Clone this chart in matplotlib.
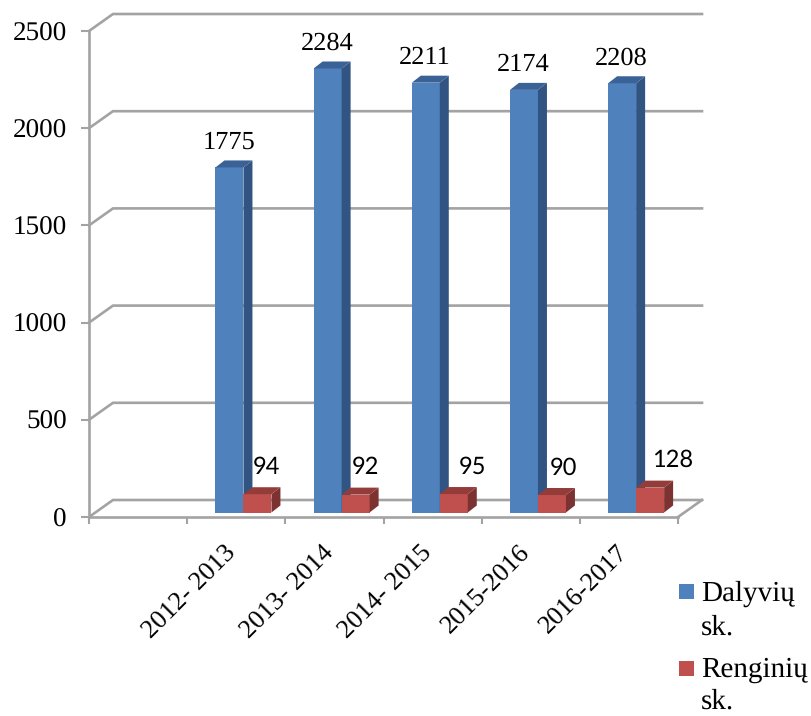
import matplotlib
matplotlib.use("Agg")
import matplotlib.pyplot as plt
from matplotlib.patches import Rectangle
from matplotlib.transforms import ScaledTranslation

# data
seasons = ["2012- 2013", "2013- 2014", "2014- 2015", "2015-2016", "2016-2017"]
dalyviai = [1775, 2284, 2211, 2174, 2208]
renginiai = [94, 92, 95, 90, 128]
yticks = [0, 500, 1000, 1500, 2000, 2500]
legend_first = ["Dalyvių", "Renginių"]
legend_second = ["sk.", "sk."]

W, H = 811, 716
X0, X1, Y0, Y1 = 89, 678, 517, 31   # plot box in pixels
n_slots = 6

plt.rcParams["font.family"] = ["Liberation Serif", "DejaVu Serif"]
plt.rcParams["text.hinting"] = "no_hinting"
fig = plt.figure(figsize=(W / 100, H / 100), dpi=100)
ax = fig.add_axes([X0 / W, 1 - Y0 / H, (X1 - X0) / W, (Y0 - Y1) / H])
ax.set_xlim(0, n_slots)
ax.set_ylim(0, 2500)

# px -> data units
ux = n_slots / (X1 - X0)
uy = 2500 / (Y0 - Y1)
grey = "#a3a3a3"

# back wall + floor
back_dx, back_dy = 24 * ux, 17 * uy
for v in yticks:
    ax.plot([0, back_dx, n_slots + back_dx], [v, v + back_dy, v + back_dy],
            color=grey, lw=1.9, clip_on=False, zorder=1, solid_joinstyle="miter")
ax.plot([n_slots, n_slots + back_dx], [0, back_dy], color=grey, lw=1.9, clip_on=False, zorder=1)


def box(x, val, width, front, side, top):
    # floor offset of the bars
    sx, sy = 7.2 * ux, 4.5 * uy
    dx, dy = 9 * ux, 7 * uy
    left = x + sx
    right = left + width
    ax.bar(left, val, width, bottom=sy, align="edge", color=front, zorder=3)
    ax.fill([right, right + dx, right + dx, right],
            [sy, sy + dy, sy + val + dy, sy + val], color=side, lw=0, zorder=3, clip_on=False)
    ax.fill([left, left + dx, right + dx, right],
            [sy + val, sy + val + dy, sy + val + dy, sy + val], color=top, lw=0, zorder=3, clip_on=False)


bar_w = 28 * ux
red_dx = [10, 11, 19, 12, 23]
for i, season in enumerate(seasons):
    c = i + 1.5
    box(c - bar_w, dalyviai[i], bar_w, "#4f81bd", "#325482", "#3a6296")
    box(c, renginiai[i], bar_w, "#c0504d", "#7c3230", "#943c3a")
    ax.annotate(str(dalyviai[i]), (c - bar_w / 2, dalyviai[i]), xytext=(6.4 * 0.72, 21),
                textcoords="offset points", ha="center", va="center", fontsize=19,
                annotation_clip=False, zorder=5)
    ax.annotate(str(renginiai[i]), (c + bar_w / 2, renginiai[i]), xytext=(6.4 * 0.72 + red_dx[i] * 0.72, 23),
                textcoords="offset points", ha="center", va="center", fontsize=17,
                family=["Lato", "DejaVu Sans"], annotation_clip=False, zorder=5)

# axes
for s in ["top", "right"]:
    ax.spines[s].set_visible(False)
for s in ["left", "bottom"]:
    ax.spines[s].set_color(grey)
    ax.spines[s].set_linewidth(1.9)
ax.set_yticks(yticks)
ax.tick_params(axis="y", length=6, width=1.5, color=grey, labelsize=19.5, pad=10)
ax.set_xticks(range(n_slots + 1))
ax.set_xticklabels([])
ax.tick_params(axis="x", length=5, width=1.5, color=grey)
ax.set_xticks([i + 1.5 for i in range(len(seasons))], minor=True)
ax.set_xticklabels(seasons, minor=True, rotation=45, ha="right", va="top",
                   rotation_mode="anchor", fontsize=19)
ax.tick_params(axis="x", which="minor", length=0, pad=17)
shift = ScaledTranslation(-13 / 100, 0, fig.dpi_scale_trans)
for lab in ax.get_xticklabels(minor=True):
    lab.set_transform(lab.get_transform() + shift)

# legend, first line next to the swatch
for color, first, second, top_px, base1, base2 in zip(
        ["#4f81bd", "#c0504d"], legend_first, legend_second,
        [584, 661], [601, 677], [635, 709]):
    fig.add_artist(Rectangle((679 / W, 1 - (top_px + 15) / H), 15 / W, 15 / H,
                             transform=fig.transFigure, color=color, lw=0))
    fig.text(701 / W, 1 - base1 / H, first, fontsize=21, va="baseline")
    fig.text(701 / W, 1 - base2 / H, second, fontsize=21, va="baseline")

fig.savefig("out.png", dpi=100)
